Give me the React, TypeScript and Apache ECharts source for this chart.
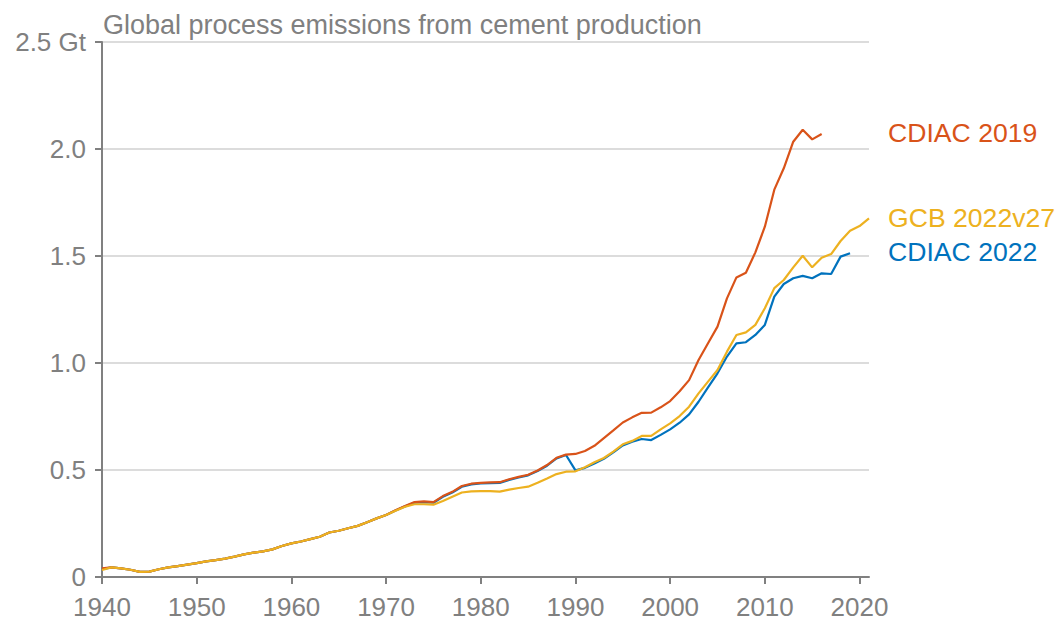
import React, { useEffect, useRef } from "react";
import * as echarts from "echarts";

const startYear = 1940;

const tickYears = [1940, 1950, 1960, 1970, 1980, 1990, 2000, 2010, 2020];
const yTicks = [0, 0.5, 1.0, 1.5, 2.0, 2.5];

const titleText = "Global process emissions from cement production";
const seriesNames = ["CDIAC 2022", "CDIAC 2019", "GCB 2022v27"];
const seriesColors = ["#0072BD", "#D95319", "#EDB120"];

// CDIAC 2022, 1940-2019
const cdiac2022 = [
  0.037, 0.045, 0.040, 0.034, 0.024, 0.025, 0.036, 0.045, 0.051, 0.058,
  0.065, 0.073, 0.079, 0.086, 0.095, 0.106, 0.114, 0.120, 0.129, 0.145,
  0.157, 0.166, 0.177, 0.188, 0.208, 0.216, 0.228, 0.239, 0.256, 0.274,
  0.290, 0.311, 0.330, 0.347, 0.350, 0.347, 0.375, 0.395, 0.422, 0.433,
  0.437, 0.439, 0.440, 0.454, 0.465, 0.475, 0.495, 0.520, 0.554, 0.570,
  0.498, 0.510, 0.530, 0.552, 0.582, 0.615, 0.632, 0.645, 0.640, 0.664,
  0.690, 0.721, 0.760, 0.819, 0.886, 0.952, 1.030, 1.092, 1.097, 1.131,
  1.178, 1.310, 1.369, 1.396, 1.407, 1.396, 1.419, 1.416, 1.497, 1.513,
];

// CDIAC 2019, 1940-2016
const cdiac2019 = [
  0.040, 0.045, 0.040, 0.034, 0.024, 0.025, 0.036, 0.045, 0.051, 0.058,
  0.065, 0.073, 0.079, 0.086, 0.095, 0.106, 0.114, 0.120, 0.129, 0.145,
  0.157, 0.166, 0.177, 0.188, 0.208, 0.216, 0.228, 0.239, 0.256, 0.274,
  0.290, 0.312, 0.332, 0.350, 0.353, 0.350, 0.378, 0.398, 0.425, 0.436,
  0.440, 0.442, 0.443, 0.457, 0.468, 0.478, 0.498, 0.523, 0.557, 0.572,
  0.575, 0.589, 0.613, 0.649, 0.685, 0.722, 0.746, 0.767, 0.768, 0.793,
  0.822, 0.868, 0.920, 1.014, 1.092, 1.170, 1.302, 1.400, 1.422, 1.517,
  1.637, 1.810, 1.910, 2.034, 2.090, 2.045, 2.070,
];

// GCB 2022v27, 1940-2021
const gcb2022 = [
  0.033, 0.045, 0.040, 0.034, 0.024, 0.025, 0.036, 0.045, 0.051, 0.058,
  0.065, 0.073, 0.079, 0.086, 0.095, 0.106, 0.114, 0.120, 0.129, 0.145,
  0.157, 0.166, 0.177, 0.188, 0.208, 0.216, 0.228, 0.239, 0.256, 0.274,
  0.290, 0.310, 0.328, 0.340, 0.340, 0.338, 0.355, 0.375, 0.395, 0.400,
  0.401, 0.401, 0.399, 0.408, 0.416, 0.422, 0.440, 0.460, 0.481, 0.492,
  0.494, 0.513, 0.536, 0.556, 0.586, 0.620, 0.636, 0.659, 0.659, 0.690,
  0.718, 0.752, 0.796, 0.858, 0.913, 0.967, 1.053, 1.131, 1.143, 1.178,
  1.256, 1.350, 1.388, 1.447, 1.501, 1.447, 1.492, 1.509, 1.570, 1.618,
  1.640, 1.676,
];

const labelY = [252, 133, 218];

const FONT = "'Liberation Sans', Arial, Helvetica, sans-serif";
const GRAY = "#808080";

const toPairs = (vals: number[]) => vals.map((v, i) => [startYear + i, v]);

export default function App() {
  const ref = useRef<HTMLDivElement>(null);
  useEffect(() => {
    if (!ref.current) return;
    const chart = echarts.init(ref.current, null, { renderer: "svg" });
    const allData = [cdiac2022, cdiac2019, gcb2022];
    chart.setOption({
      animation: false,
      backgroundColor: "#ffffff",
      textStyle: { fontFamily: FONT },
      grid: {
        left: 102,
        right: 190,
        top: 42,
        bottom: 47,
        containLabel: false,
        outerBoundsMode: "none",
      },
      xAxis: {
        type: "value",
        min: 1940,
        max: 2021,
        interval: 10,
        axisLine: { show: true, onZero: false, lineStyle: { color: GRAY, width: 2 } },
        axisTick: {
          show: true,
          length: 7,
          lineStyle: { color: GRAY, width: 2 },
          customValues: tickYears,
        },
        axisLabel: {
          color: GRAY,
          fontSize: 26,
          fontFamily: FONT,
          margin: 17,
          customValues: tickYears,
          formatter: (v: number) => String(v),
        },
        splitLine: { show: false },
      },
      yAxis: {
        type: "value",
        min: 0,
        max: 2.5,
        interval: 0.5,
        axisLine: { show: true, lineStyle: { color: GRAY, width: 2 } },
        axisTick: { show: true, length: 7, lineStyle: { color: GRAY, width: 2 } },
        axisLabel: {
          color: GRAY,
          fontSize: 26,
          fontFamily: FONT,
          margin: 16,
          formatter: (v: number) => {
            if (Math.abs(v) < 1e-9) return "0";
            const s = v.toFixed(1);
            return Math.abs(v - yTicks[yTicks.length - 1]) < 1e-9 ? s + " Gt" : s;
          },
        },
        splitLine: { show: true, lineStyle: { color: "#dcdcdc", width: 2 } },
      },
      series: allData.map((d, i) => ({
        type: "line",
        name: seriesNames[i],
        data: toPairs(d),
        showSymbol: false,
        symbol: "none",
        lineStyle: { color: seriesColors[i], width: 2.2 },
        itemStyle: { color: seriesColors[i] },
        z: 2 + i,
      })),
      graphic: [
        {
          type: "text",
          x: 103,
          y: 25,
          style: {
            text: titleText,
            fill: GRAY,
            font: `27px ${FONT}`,
            textAlign: "left",
            textVerticalAlign: "middle",
          },
        },
        ...seriesNames.map((n, i) => ({
          type: "text",
          x: 888,
          y: labelY[i],
          style: {
            text: n,
            fill: seriesColors[i],
            font: `26.6px ${FONT}`,
            textAlign: "left",
            textVerticalAlign: "middle",
          },
        })),
      ],
    });
    return () => chart.dispose();
  }, []);
  return (
    <div
      ref={ref}
      style={{ position: "fixed", left: 0, top: 0, width: 1059, height: 624 }}
    />
  );
}
